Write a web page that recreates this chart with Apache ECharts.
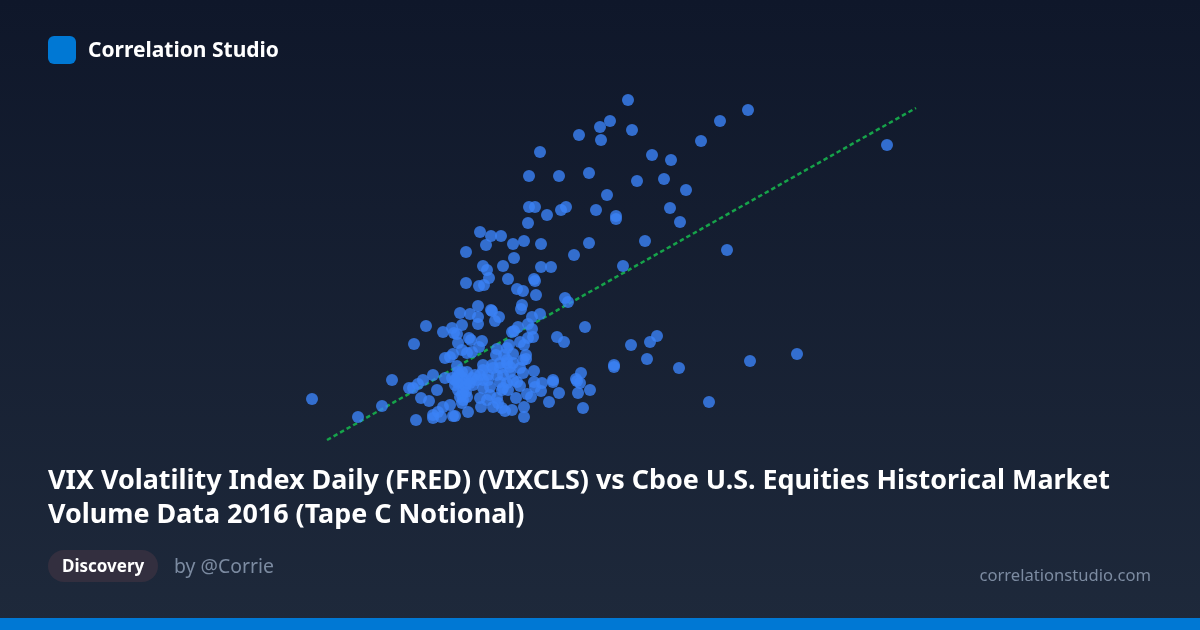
<!DOCTYPE html>
<html>
<head>
<meta charset="utf-8">
<title>Correlation Studio</title>
<script src="https://cdn.jsdelivr.net/npm/echarts@6/dist/echarts.min.js"></script>
<style>
    html, body { margin: 0; padding: 0; background: #0f172a; }
    #chart { width: 1200px; height: 630px; }
</style>
</head>
<body>
<div id="chart"></div>
<script>
// VIX close
var vixValues = [
    18.84,18.30,18.00,17.37,18.96,18.03,21.03,16.20,19.56,20.13,15.87,16.77,17.67,19.11,19.92,20.58,18.21,20.10,15.87,16.05,
    16.41,16.83,16.98,17.88,18.48,18.48,20.40,21.60,22.44,26.61,21.81,19.35,18.69,15.84,14.40,14.73,15.03,15.39,15.72,14.58,
    16.23,17.67,17.22,13.98,15.42,14.49,15.09,16.23,16.53,14.61,14.67,15.24,16.02,16.05,13.98,14.37,14.52,15.51,15.69,16.08,
    16.95,17.04,15.66,15.63,14.34,13.80,14.10,14.73,14.76,14.97,14.85,14.34,14.34,16.20,15.96,15.84,13.86,13.56,13.29,15.54,
    15.36,15.42,15.96,17.55,12.78,13.62,13.71,12.42,14.07,14.13,14.46,13.74,14.37,14.16,14.01,13.86,13.59,13.50,13.35,15.60,
    15.72,15.84,15.99,16.71,16.92,15.27,15.21,14.91,15.39,14.88,15.12,15.78,15.69,15.78,15.21,16.02,15.69,15.60,14.49,14.76,
    13.71,14.49,14.79,15.00,15.30,14.01,13.74,15.30,13.35,13.56,12.99,12.69,12.54,12.39,12.27,13.11,12.63,12.87,12.48,12.99,
    12.99,13.23,13.14,13.29,13.50,13.59,13.65,14.04,13.86,13.89,13.80,14.01,13.74,13.89,13.65,13.80,13.95,14.16,14.19,14.31,
    14.49,14.64,14.91,15.09,14.40,14.64,14.40,14.43,14.70,14.79,14.94,15.06,15.15,15.36,14.91,15.09,15.24,15.39,15.51,15.60,
    15.48,15.81,15.93,15.72,15.72,16.02,16.05,16.26,16.23,16.59,16.59,16.77,16.47,17.28,17.31,17.43,17.34,17.70,17.40,17.49,
    18.42,18.42,14.49,14.70,15.00,15.06,15.21,18.93,19.50,19.71,19.41,20.37,22.50,23.91,21.27,9.36,10.74,11.46,11.76,13.86,
    13.71,13.86,14.01,15.21,15.00,14.61,15.39,13.77,13.95,13.74,14.10,13.86,13.65,13.98,14.25
];
// Tape C notional, same order
var tapeCValues = [
    106.0,101.8,100.6,99.0,100.0,98.0,97.8,95.6,95.0,94.0,90.8,90.8,91.4,89.8,90.2,88.0,87.0,84.4,84.6,84.6,
    83.0,84.0,84.6,84.0,82.8,82.2,81.6,101.8,104.0,97.0,76.0,77.8,72.8,81.4,79.6,78.8,78.8,77.2,77.8,77.0,
    77.2,77.4,75.0,75.6,74.4,72.8,72.8,72.6,72.6,72.0,70.4,70.2,70.2,69.8,69.4,68.8,69.0,68.2,67.8,67.0,
    66.4,65.6,65.0,64.2,64.8,63.4,63.2,64.0,63.8,62.6,61.8,62.6,61.2,63.2,62.6,61.2,61.0,60.4,59.6,60.6,
    59.6,59.8,60.2,60.6,60.8,59.4,59.2,57.2,58.4,58.0,57.8,57.4,56.6,55.6,55.4,56.0,55.2,54.6,54.4,57.6,
    57.0,58.4,58.6,58.6,57.6,57.0,56.4,56.2,55.2,55.0,55.0,55.0,54.0,54.2,54.0,51.8,51.4,52.4,53.0,53.0,
    52.8,52.0,52.4,52.4,52.6,51.6,51.6,51.6,50.4,50.4,51.0,50.0,49.2,48.4,48.4,48.0,46.4,45.8,42.0,43.0,
    42.4,42.6,43.6,44.6,45.0,42.8,42.8,43.6,45.4,46.0,46.6,46.6,48.0,47.6,49.0,49.6,50.0,50.4,49.0,50.0,
    50.0,50.0,51.0,51.0,51.0,51.0,46.4,44.6,47.0,44.6,45.4,44.4,43.8,44.0,46.4,48.4,48.0,50.0,49.6,48.8,
    46.4,47.2,46.6,44.6,42.6,49.6,48.6,49.4,47.8,50.0,49.6,47.4,45.6,50.2,49.8,51.4,47.4,48.0,49.4,44.4,
    53.0,52.6,48.4,48.6,49.6,48.0,49.4,57.0,57.6,58.8,54.2,52.4,53.8,55.2,45.6,46.2,42.6,44.8,50.0,47.0,
    50.4,50.6,49.4,53.4,53.4,46.0,53.4,51.0,48.8,49.4,49.4,51.6,50.0,47.6,51.0
];
// ends of the dotted trend line
var trendVix = [9.81, 27.48];
var trendTapeC = [38.0, 104.4];

var titleLines = [
    'VIX Volatility Index Daily (FRED) (VIXCLS) vs Cboe U.S. Equities Historical Market',
    'Volume Data 2016 (Tape C Notional)'
];
var brandName = 'Correlation Studio';
var tagName = 'Discovery';
var authorName = 'by @Corrie';
var siteName = 'correlationstudio.com';

var FONT = '"Noto Sans", sans-serif';

function zip(a, b) {
    var out = [];
    for (var i = 0; i < a.length; i++) {
        out.push([a[i], b[i]]);
    }
    return out;
}

var myChart = echarts.init(document.getElementById('chart'));
var option = {
    animation: false,
    backgroundColor: new echarts.graphic.LinearGradient(0, 0, 0, 1, [
        { offset: 0, color: '#0f172a' },
        { offset: 1, color: '#1e293b' }
    ]),
    grid: { left: 0, right: 0, top: 0, bottom: 0 },
    xAxis: { type: 'value', min: 0, max: 36, show: false },
    yAxis: { type: 'value', min: 0, max: 126, show: false },
    series: [
        {
            name: 'Trend',
            type: 'line',
            data: zip(trendVix, trendTapeC),
            showSymbol: false,
            silent: true,
            z: 1,
            lineStyle: { color: '#16a34a', width: 2.5, type: [4.5, 3] }
        },
        {
            name: 'VIX vs Tape C',
            type: 'scatter',
            data: zip(vixValues, tapeCValues),
            symbolSize: 12,
            z: 2,
            itemStyle: { color: '#3b82f6', opacity: 0.8 }
        }
    ],
    graphic: [
        { type: 'rect', left: 0, top: 618, shape: { width: 1200, height: 12 }, style: { fill: '#0078d4' } },
        { type: 'rect', left: 48, top: 36, shape: { width: 28, height: 28, r: 6 }, style: { fill: '#0078d4' } },
        { type: 'text', left: 88, top: 41, style: { text: brandName, fill: '#ffffff', font: '700 21px ' + FONT } },
        { type: 'text', left: 48, top: 468, style: { text: titleLines[0], fill: '#ffffff', font: '700 26.9px ' + FONT } },
        { type: 'text', left: 48, top: 502, style: { text: titleLines[1], fill: '#ffffff', font: '700 26.9px ' + FONT } },
        { type: 'rect', left: 48, top: 550, shape: { width: 110, height: 32, r: 16 }, style: { fill: '#332f3f' } },
        { type: 'text', left: 62, top: 559, style: { text: tagName, fill: '#ffffff', font: '700 17px ' + FONT } },
        { type: 'text', left: 174, top: 558, style: { text: authorName, fill: '#7c8ba1', font: '400 19.4px ' + FONT } },
        { type: 'text', right: 49, top: 568, style: { text: siteName, fill: '#7c8ba1', font: '400 16.6px ' + FONT } }
    ]
};
myChart.setOption(option);
</script>
</body>
</html>
